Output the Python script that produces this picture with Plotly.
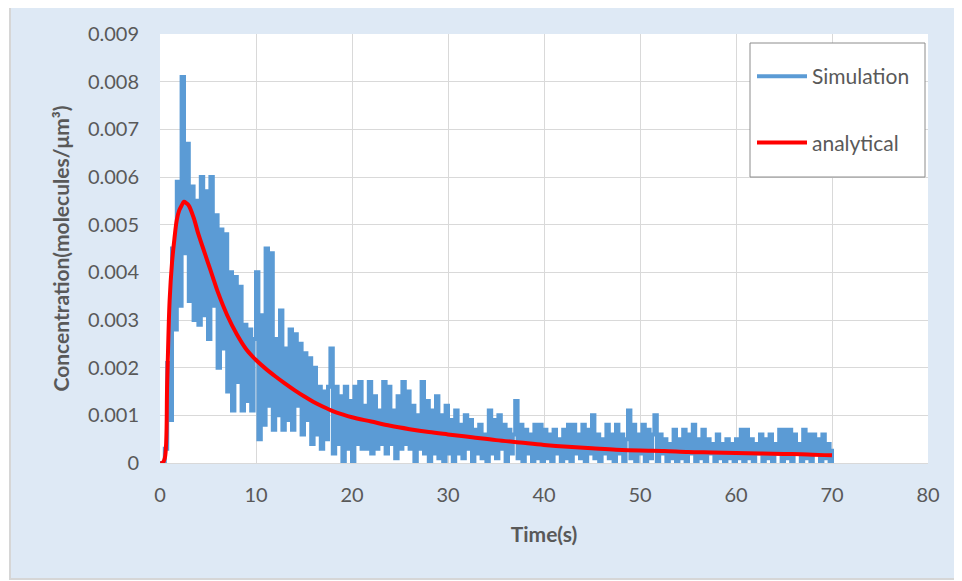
import plotly.graph_objects as go

# ---------------- data ----------------
sim_t = [i * 0.25 for i in range(281)]
sim_c = [
    0, 0, 0.0003, 0.0021, 0.0009, 0.0045, 0.0028, 0.0059, 0.0033, 0.0081,
    0.0044, 0.0067, 0.0034, 0.0058, 0.0030, 0.0055, 0.0029, 0.0060, 0.0031, 0.0057,
    0.0026, 0.0060, 0.0033, 0.0052, 0.0020, 0.0049, 0.0024, 0.0048, 0.0015, 0.0040,
    0.0011, 0.0039, 0.0017, 0.0037, 0.0011, 0.0029, 0.0013, 0.0028, 0.0011, 0.0026,
    0.0040, 0.0005, 0.0031, 0.0008, 0.0045, 0.0012, 0.0044, 0.0007, 0.0026, 0.0010,
    0.0032, 0.0007, 0.0024, 0.0009, 0.0028, 0.0007, 0.0027, 0.0012, 0.0025, 0.0006,
    0.0023, 0.0009, 0.0022, 0.0004, 0.0020, 0.0006, 0.0016, 0.0003, 0.0015, 0.0005,
    0.0016, 0.0024, 0.0002, 0.0016, 0.0004, 0.0014, 0.0000, 0.0016, 0.0003, 0.0013,
    0.0000, 0.0016, 0.0004, 0.0017, 0.0003, 0.0012, 0.0003, 0.0017, 0.0002, 0.0014,
    0.0003, 0.0011, 0.0004, 0.0017, 0.0002, 0.0016, 0.0004, 0.0011, 0.0001, 0.0014,
    0.0003, 0.0017, 0.0004, 0.0015, 0.0003, 0.0012, 0.0000, 0.0010, 0.0003, 0.0017,
    0.0002, 0.0013, 0.0000, 0.0011, 0.0002, 0.0014, 0.0001, 0.0010, 0.0000, 0.0012,
    0.0002, 0.0009, 0.0000, 0.0011, 0.0002, 0.0008, 0.0001, 0.0010, 0.0003, 0.0009,
    0.0000, 0.0007, 0.0002, 0.0008, 0.0001, 0.0006, 0.0000, 0.0011, 0.0002, 0.0009,
    0.0001, 0.0010, 0.0003, 0.0008, 0.0000, 0.0007, 0.0002, 0.0006, 0.0013, 0.0001,
    0.0008, 0.0000, 0.0007, 0.0002, 0.0006, 0.0000, 0.0008, 0.0001, 0.0008, 0.0000,
    0.0007, 0.0001, 0.0006, 0.0000, 0.0007, 0.0002, 0.0005, 0.0000, 0.0007, 0.0001,
    0.0008, 0.0000, 0.0008, 0.0002, 0.0006, 0.0001, 0.0008, 0.0000, 0.0007, 0.0002,
    0.0010, 0.0001, 0.0006, 0.0000, 0.0005, 0.0002, 0.0008, 0.0001, 0.0006, 0.0000,
    0.0008, 0.0002, 0.0006, 0.0000, 0.0005, 0.0011, 0.0001, 0.0008, 0.0000, 0.0006,
    0.0002, 0.0008, 0.0000, 0.0007, 0.0001, 0.0006, 0.0010, 0.0000, 0.0006, 0.0002,
    0.0005, 0.0000, 0.0004, 0.0001, 0.0007, 0.0000, 0.0005, 0.0001, 0.0007, 0.0000,
    0.0006, 0.0002, 0.0008, 0.0000, 0.0005, 0.0001, 0.0007, 0.0000, 0.0005, 0.0002,
    0.0004, 0.0000, 0.0006, 0.0001, 0.0004, 0.0000, 0.0005, 0.0001, 0.0004, 0.0000,
    0.0005, 0.0001, 0.0007, 0.0000, 0.0007, 0.0001, 0.0005, 0.0000, 0.0004, 0.0002,
    0.0006, 0.0000, 0.0005, 0.0001, 0.0006, 0.0000, 0.0004, 0.0002, 0.0007, 0.0000,
    0.0007, 0.0001, 0.0007, 0.0000, 0.0006, 0.0002, 0.0004, 0.0000, 0.0007, 0.0001,
    0.0006, 0.0000, 0.0006, 0.0002, 0.0005, 0.0000, 0.0006, 0.0001, 0.0004, 0.0000,
    0.0003,
]

ana_t = [0, 0.25, 0.5, 0.75, 1.0, 1.25, 1.5, 1.75, 2.0, 2.25, 2.5, 2.75, 3.0, 3.5,
         4.0, 4.5, 5.0, 5.5, 6.0, 7.0, 8.0, 9.0, 10.0, 11.0, 12.0, 13.0, 14.0, 15.0,
         16.0, 17.0, 18.0, 19.0, 20.0, 22.0, 24.0, 26.0, 28.0, 30.0, 32.5, 35.0, 37.5,
         40.0, 42.5, 45.0, 47.5, 50.0, 52.5, 55.0, 57.5, 60.0, 62.5, 65.0, 67.5, 70.0]
ana_c = [0, 0, 0.0001, 0.0017, 0.0034, 0.0042, 0.0047, 0.0051, 0.0053, 0.0054,
         0.00548, 0.00545, 0.0054, 0.00515, 0.0048, 0.0045, 0.0042, 0.0039, 0.0036,
         0.0031, 0.00270, 0.00238, 0.00216, 0.00198, 0.00182, 0.00167, 0.00153,
         0.00140, 0.00128, 0.00118, 0.00109, 0.00102, 0.00096, 0.00087, 0.00078,
         0.00071, 0.00065, 0.00060, 0.00054, 0.00048, 0.00043, 0.00038, 0.00034,
         0.00031, 0.00028, 0.00026, 0.00025, 0.00023, 0.00022, 0.00021, 0.00020,
         0.00019, 0.00018, 0.00016]

x_ticks = [0, 10, 20, 30, 40, 50, 60, 70, 80]
y_ticks = [0, 0.001, 0.002, 0.003, 0.004, 0.005, 0.006, 0.007, 0.008, 0.009]
y_tick_labels = ["0", "0.001", "0.002", "0.003", "0.004", "0.005", "0.006",
                 "0.007", "0.008", "0.009"]

# ---------------- figure ----------------
FONT = "Lato, 'Open Sans', sans-serif"
GREY = "#595959"
OFF = 8  # page offset of the figure (body margin)

W, H = 962, 581
# plot area in screen pixels: x 160..928, y 34..463
L, T = 160 - OFF, 34 - OFF
R = W - (928 - OFF)
B = H - (463 - OFF)
pw, ph = W - L - R, H - T - B


def px(x):
    """screen pixel x -> paper fraction"""
    return (x - OFF - L) / pw


def py(y):
    """screen pixel y -> paper fraction"""
    return (H - B - (y - OFF)) / ph


fig = go.Figure()
fig.add_trace(go.Scatter(x=sim_t, y=sim_c, mode="lines", name="Simulation",
                         legendgroup="a",
                         line=dict(color="#5b9bd5", width=4, shape="hv")))
fig.add_trace(go.Scatter(x=ana_t, y=ana_c, mode="lines", name="analytical",
                         legendgroup="b",
                         line=dict(color="#ff0000", width=4, shape="spline")))

fig.update_layout(
    width=W, height=H,
    margin=dict(l=L, r=R, t=T, b=B),
    paper_bgcolor="white",
    plot_bgcolor="white",
    font=dict(family=FONT, color=GREY, size=20),
    showlegend=True,
    legend=dict(x=px(752), y=py(56), xanchor="left", yanchor="top",
                bgcolor="rgba(0,0,0,0)", borderwidth=0,
                font=dict(size=21, color=GREY), itemwidth=50,
                tracegroupgap=36, traceorder="grouped"),
    shapes=[
        dict(type="rect", xref="paper", yref="paper", layer="below",
             x0=px(10), x1=px(985), y0=py(579), y1=py(5),
             fillcolor="#dee9f5", line=dict(color="#d6d6d6", width=2)),
        dict(type="rect", xref="paper", yref="paper", layer="below",
             x0=0, x1=1, y0=0, y1=1,
             fillcolor="white", line=dict(width=0)),
        dict(type="rect", xref="paper", yref="paper", layer="above",
             x0=px(750), x1=px(925), y0=py(177), y1=py(43),
             fillcolor="white", line=dict(color="#8c8c8c", width=1)),
    ],
)

fig.update_xaxes(
    range=[0, 80], tickvals=x_ticks, ticktext=[str(v) for v in x_ticks],
    showgrid=True, gridcolor="#d9d9d9", gridwidth=1,
    showline=True, linecolor="#d9d9d9", linewidth=1,
    zeroline=False, ticks="", ticklabelstandoff=14,
    tickfont=dict(size=20, color=GREY),
    title=dict(text="<b>Time(s)</b>", font=dict(size=21, color=GREY), standoff=22),
)
fig.update_yaxes(
    range=[0, 0.009], tickvals=y_ticks, ticktext=y_tick_labels,
    showgrid=True, gridcolor="#d9d9d9", gridwidth=1,
    showline=False, zeroline=False, ticks="", ticklabelstandoff=20,
    tickfont=dict(size=20, color=GREY),
    title=dict(text="<b>Concentration(molecules/μm³)</b>",
               font=dict(size=21, color=GREY), standoff=12),
)

fig.write_html("out.html")
